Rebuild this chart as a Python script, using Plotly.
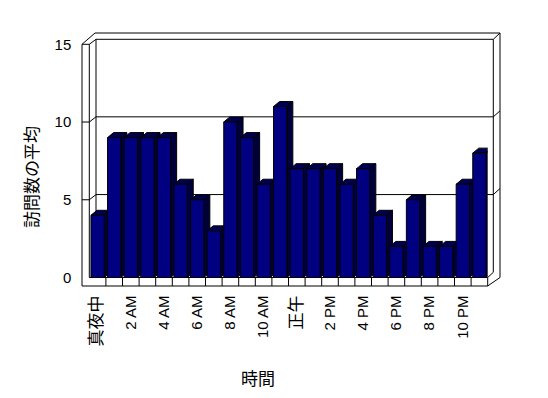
import plotly.graph_objects as go

# ---------------- data ----------------
categories = ["真夜中", "1 AM", "2 AM", "3 AM", "4 AM", "5 AM", "6 AM", "7 AM",
              "8 AM", "9 AM", "10 AM", "11 AM", "正午", "1 PM", "2 PM", "3 PM",
              "4 PM", "5 PM", "6 PM", "7 PM", "8 PM", "9 PM", "10 PM", "11 PM"]
values = [4, 9, 9, 9, 9, 6, 5, 3, 10, 9, 6, 11, 7, 7, 7, 6, 7, 4, 2, 5, 2, 2, 6, 8]
y_ticks = [0, 5, 10, 15]
x_title = "時間"
y_title = "訪問数の平均"

# ---------------- geometry (pixels) ----------------
W, H = 548, 398
FX0, FX1 = 89.3, 487.7      # front plane, category span
FY0, FY15 = 277.5, 44.3     # front plane, value 0 and 15
LW = 82.0                   # left wall outer x
BX0, BX1 = 96.0, 493.3      # back wall inner face x
BTOP, OTOP, ORIGHT = 39.3, 33.0, 500.0
FLOOR_B = 286.0
DEPTH_Y = 5.2               # back wall offset up (px)
BAR_W = 0.8
DX, DY = 6.0, 5.0           # bar depth offset (px)
PPU = (FY0 - FY15) / 15.0
BAR_PX = BAR_W * (FX1 - FX0) / len(categories)

FONT = "Liberation Sans, Noto Sans CJK JP, sans-serif"


def px(x):
    return x / W


def py(y):
    return 1 - y / H


def pline(x0, y0, x1, y1):
    return dict(type="line", xref="paper", yref="paper", layer="below",
                x0=px(x0), y0=py(y0), x1=px(x1), y1=py(y1),
                line=dict(color="black", width=1))


shapes = []
# frame
shapes += [
    pline(LW, FY15, LW, FLOOR_B),
    pline(FX0, FY15, FX0, FY0),
    pline(BX0, BTOP, BX0, FY0 - DEPTH_Y),
    pline(BX0, BTOP, BX1, BTOP),
    pline(BX0 - 1, OTOP, ORIGHT, OTOP),
    pline(BX1, BTOP, BX1, FY0 - DEPTH_Y),
    pline(ORIGHT, OTOP, ORIGHT, FY0),
    pline(LW, FY15, FX0, FY15),
    pline(LW, FY15, BX0 - 1, OTOP),
    pline(FX0, FY15, BX0, BTOP),
    pline(BX1, BTOP, ORIGHT, OTOP),
    pline(FX0, FY0, FX1, FY0),
    pline(LW, FLOOR_B, FX1, FLOOR_B),
    pline(FX1, FY0, FX1, FLOOR_B),
    pline(FX1, FLOOR_B, ORIGHT, FY0),
    pline(FX1, FY0, BX1, FY0 - DEPTH_Y),
]
# gridlines on back wall with left-wall ticks (anchored to value axis)
for v in y_ticks[1:-1]:
    path = (f"M {px(LW)},0 L {px(FX0)},0 L {px(BX0)},{DEPTH_Y} "
            f"L {px(BX1)},{DEPTH_Y} L {px(ORIGHT)},{DEPTH_Y + 6}")
    shapes.append(dict(type="path", xref="paper", yref="y", ysizemode="pixel",
                       yanchor=v, path=path, layer="below",
                       line=dict(color="black", width=1)))
# floor ticks between categories
for i in range(len(categories) - 1):
    shapes.append(dict(type="line", xref="x", yref="paper", layer="below",
                       x0=i + 0.5, x1=i + 0.5, y0=py(FY0), y1=py(FLOOR_B),
                       line=dict(color="black", width=1)))
# 3-D faces of the bars
off = DY / PPU
for i, v in enumerate(values):
    top = (f"M {-BAR_PX},0 L 0,0 L {DX},{DY} L {DX - BAR_PX},{DY} Z")
    shapes.append(dict(type="path", xref="x", yref="y", xsizemode="pixel",
                       ysizemode="pixel", xanchor=i + BAR_W / 2, yanchor=v,
                       path=top, fillcolor="#000050", layer="below",
                       line=dict(color="black", width=1)))
    side = f"M 0,0 L 0,{v} L {DX},{v + off} L {DX},{off} Z"
    shapes.append(dict(type="path", xref="x", yref="y", xsizemode="pixel",
                       xanchor=i + BAR_W / 2, path=side, fillcolor="#00003a",
                       layer="below", line=dict(color="black", width=1)))


def tick_text(c):
    if any(ord(ch) > 0x3000 for ch in c):
        return f'<span style="font-size:17px;color:black">{c}</span>'
    return c


fig = go.Figure(go.Bar(
    x=categories, y=values, width=BAR_W,
    marker=dict(color="#000080", line=dict(color="black", width=1)),
    hoverinfo="x+y",
))

fig.update_layout(
    template="none",
    width=W, height=H,
    margin=dict(l=0, r=0, t=0, b=0, pad=0, autoexpand=False),
    paper_bgcolor="white", plot_bgcolor="rgba(0,0,0,0)",
    showlegend=False,
    font=dict(family=FONT, size=15, color="black"),
    xaxis=dict(domain=[px(FX0), px(FX1)], range=[-0.5, len(categories) - 0.5],
               automargin=False,
               showgrid=False, zeroline=False, showline=False, ticks="",
               tickvals=categories[::2],
               ticktext=[tick_text(c) for c in categories[::2]],
               tickangle=-90, ticklabelstandoff=14,
               tickfont=dict(family=FONT, size=15, color="black")),
    yaxis=dict(domain=[py(FY0), py(FY15)], range=[0, 15],
               automargin=False,
               showgrid=False, zeroline=False, showline=False, ticks="",
               tickvals=y_ticks, ticklabelstandoff=17,
               tickfont=dict(family=FONT, size=15, color="black")),
    shapes=shapes,
    annotations=[
        dict(text=x_title, x=px(258), y=py(377), xref="paper", yref="paper",
             showarrow=False, xanchor="center", yanchor="middle",
             font=dict(family="Noto Sans CJK JP", size=17, color="black")),
        dict(text=y_title, x=px(30), y=py(177), xref="paper", yref="paper",
             showarrow=False, xanchor="center", yanchor="middle", textangle=-90,
             font=dict(family="Noto Sans CJK JP", size=17, color="black")),
    ],
)

fig.write_html("out.html",
               config={"displayModeBar": False},
               post_script="document.body.style.margin='0';"
                           "document.body.style.overflow='hidden';")
